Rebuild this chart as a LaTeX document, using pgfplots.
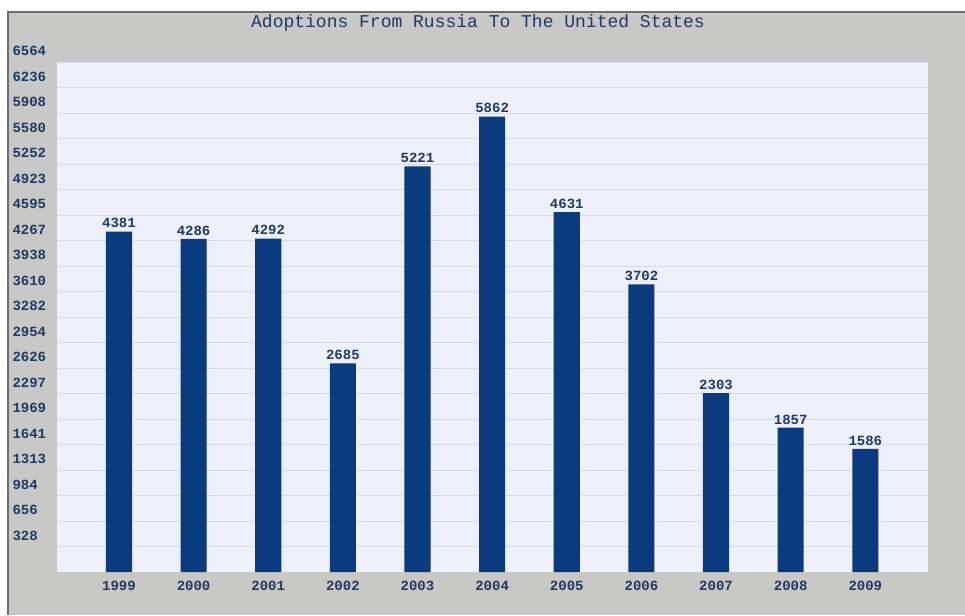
\documentclass[border=0pt]{standalone}
\usepackage{pgfplots}
\pgfplotsset{compat=1.18}
\usepackage{fontspec}
\setmainfont{Liberation Mono}
\definecolor{panel}{HTML}{C8C8C6}
\definecolor{plotbg}{HTML}{EEF0FB}
\definecolor{gridc}{HTML}{D8DAE8}
\definecolor{barc}{HTML}{0A3B7E}
\definecolor{txt}{HTML}{1E3A66}
\definecolor{bordc}{HTML}{6E6E6E}
\begin{document}
\begin{tikzpicture}
\useasboundingbox (0pt,0pt) rectangle (965pt,615pt);
\fill[white] (0pt,0pt) rectangle (965pt,615pt);
\fill[panel] (8pt,0pt) rectangle (965pt,603pt);
\draw[bordc, line width=1.2pt] (8pt,0pt) -- (8pt,603pt) -- (965pt,603pt);
\node[txt, font=\fontsize{18}{18}\selectfont] at (478pt,592pt) {Adoptions From Russia To The United States};
\begin{axis}[
  at={(57pt,43pt)}, anchor=south west,
  scale only axis, width=871pt, height=510pt,
  xmin=-0.83, xmax=10.84, ymin=0, ymax=6564,
  axis background/.style={fill=plotbg},
  axis line style={draw=none},
  major tick length=0pt,
  xtick={0,1,2,3,4,5,6,7,8,9,10},
  xticklabels={1999,2000,2001,2002,2003,2004,2005,2006,2007,2008,2009},
  ytick={328,656,984,1313,1641,1969,2297,2626,2954,3282,3610,3938,4267,4595,4923,5252,5580,5908,6236,6564},
  yticklabels={328,656,984,1313,1641,1969,2297,2626,2954,3282,3610,3938,4267,4595,4923,5252,5580,5908,6236,6564},
  ymajorgrids, major grid style={gridc, line width=0.8pt},
  ticklabel style={font=\bfseries\fontsize{14}{14}\selectfont, text=txt},
  xticklabel style={yshift=-6pt},
  yticklabel style={anchor=west, xshift=-48pt, yshift=11pt},
  ybar, bar width=0.35,
  point meta=explicit symbolic,
  nodes near coords={\pgfplotspointmeta},
  nodes near coords style={font=\bfseries\fontsize{14}{14}\selectfont, text=txt},
]
\addplot[fill=barc, draw=none] coordinates {
  (0,4381) [4381]
  (1,4286) [4286]
  (2,4292) [4292]
  (3,2685) [2685]
  (4,5221) [5221]
  (5,5862) [5862]
  (6,4631) [4631]
  (7,3702) [3702]
  (8,2303) [2303]
  (9,1857) [1857]
  (10,1586) [1586]
};
\end{axis}
\end{tikzpicture}
\end{document}
